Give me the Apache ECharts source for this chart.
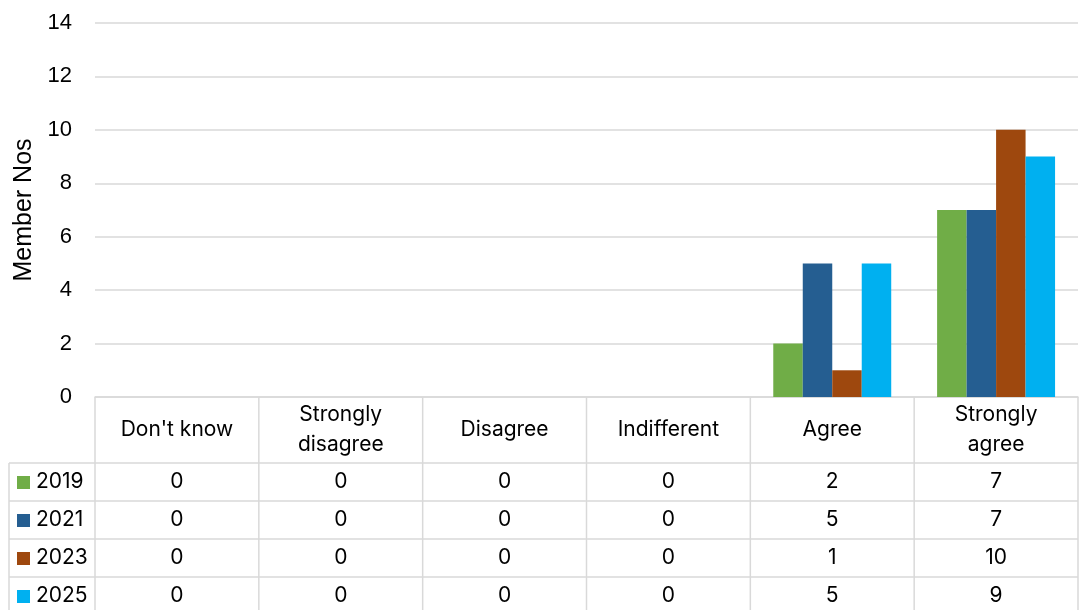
<!DOCTYPE html>
<html><head><meta charset="utf-8">
<script src="https://cdn.jsdelivr.net/npm/echarts@6/dist/echarts.min.js"></script>
<style>html,body{margin:0;padding:0;background:#fff}#c{width:1080px;height:610px}</style>
</head><body><div id="c"></div>
<script>
var categories = ["Don't know", "Strongly\ndisagree", "Disagree", "Indifferent", "Agree", "Strongly\nagree"];
var seriesNames = ["2019", "2021", "2023", "2025"];
var v2019 = [0, 0, 0, 0, 2, 7];
var v2021 = [0, 0, 0, 0, 5, 7];
var v2023 = [0, 0, 0, 0, 1, 10];
var v2025 = [0, 0, 0, 0, 5, 9];
var yTicks = [0, 2, 4, 6, 8, 10, 12, 14];
var colors = ["#70AD47", "#255E91", "#9E480E", "#00B0F0"];
var allValues = [v2019, v2021, v2023, v2025];

var FONT = "Inter";
var AFONT = "Liberation Sans";
var TSIZE = 21;
var gridCol = "#d9d9d9";
var chart = echarts.init(document.getElementById('c'));
var option = {
  animation: false,
  textStyle: {fontFamily: FONT},
  grid: {left: 95, right: 2, top: 23, bottom: 213, outerBoundsMode: 'none', containLabel: false},
  xAxis: {
    type: 'category', data: categories,
    axisLine: {lineStyle: {color: gridCol, width: 1.5}},
    axisTick: {show: false},
    axisLabel: {color: '#000', fontSize: TSIZE, fontFamily: FONT, lineHeight: 30, margin: 33, verticalAlign: 'middle', interval: 0}
  },
  yAxis: {
    type: 'value', min: 0, max: 14, interval: 2,
    name: 'Member Nos', nameLocation: 'middle', nameGap: 58, nameRotate: 90,
    nameTextStyle: {color: '#000', fontSize: 25, fontFamily: AFONT},
    axisLine: {show: false}, axisTick: {show: false},
    axisLabel: {color: '#000', fontSize: 22, fontFamily: AFONT, margin: 23,
      formatter: function (v) { return yTicks.indexOf(v) >= 0 ? String(v) : ''; }},
    splitLine: {lineStyle: {color: gridCol, width: 1.5}}
  },
  series: seriesNames.map(function (n, i) {
    return {name: n, type: 'bar', data: allValues[i], barGap: '0%', barCategoryGap: '28%',
      itemStyle: {color: colors[i]}};
  })
};
chart.setOption(option);

// data table below axis
var rowTops = [463, 501, 539, 577];
var rowH = 38;
var g = [];
var tableLeft = 9;
var c0 = chart.convertToPixel({xAxisIndex: 0}, 0);
var c1 = chart.convertToPixel({xAxisIndex: 0}, 1);
var band = c1 - c0;
var xLeft = c0 - band / 2;
var xRight = xLeft + band * categories.length;
var yAxisPx = chart.convertToPixel({yAxisIndex: 0}, 0);
rowTops.forEach(function (t) {
  g.push({type: 'line', shape: {x1: tableLeft, y1: t, x2: xRight, y2: t}, style: {stroke: gridCol, lineWidth: 1.5}, silent: true});
});
g.push({type: 'line', shape: {x1: tableLeft, y1: 463, x2: tableLeft, y2: 610}, style: {stroke: gridCol, lineWidth: 1.5}, silent: true});
for (var k = 0; k <= categories.length; k++) {
  var bx = xLeft + band * k;
  g.push({type: 'line', shape: {x1: bx, y1: yAxisPx, x2: bx, y2: 610}, style: {stroke: gridCol, lineWidth: 1.5}, silent: true});
}
seriesNames.forEach(function (n, i) {
  var cy = rowTops[i] + rowH / 2;
  g.push({type: 'rect', shape: {x: 17, y: cy - 6, width: 13, height: 13}, style: {fill: colors[i]}, silent: true});
  g.push({type: 'text', x: 36, y: cy, style: {text: n, fontSize: TSIZE, fontFamily: FONT, fill: '#000', verticalAlign: 'middle', align: 'left'}, silent: true});
  categories.forEach(function (c, j) {
    var px = chart.convertToPixel({xAxisIndex: 0}, j);
    g.push({type: 'text', x: px, y: cy, style: {text: String(allValues[i][j]), fontSize: TSIZE, fontFamily: FONT, fill: '#000', align: 'center', verticalAlign: 'middle'}, silent: true});
  });
});
chart.setOption({graphic: g});
</script>
</body></html>
